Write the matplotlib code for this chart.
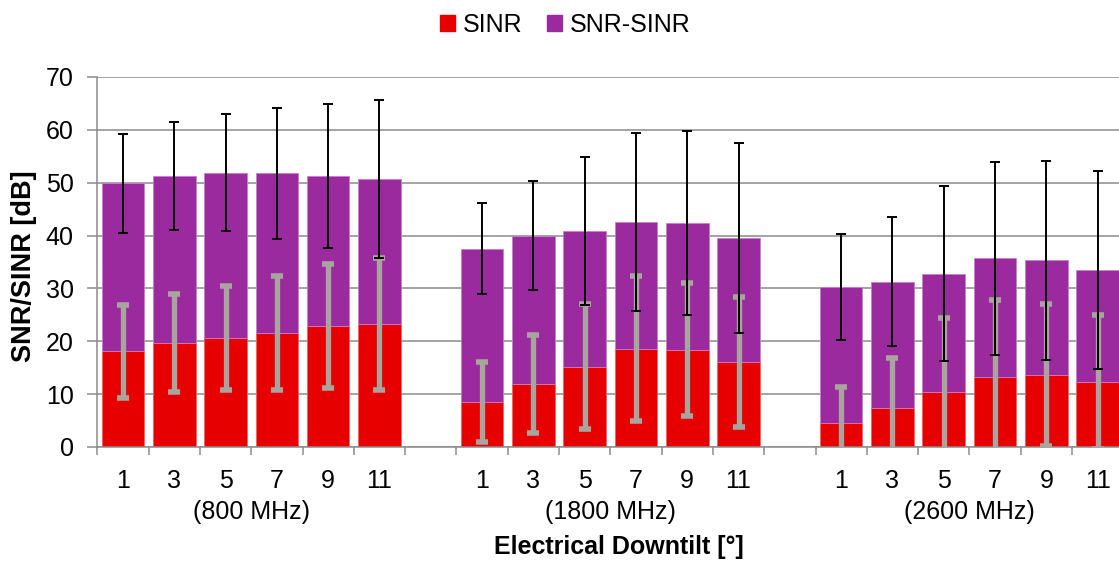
import numpy as np
import matplotlib
matplotlib.use("Agg")
import matplotlib.pyplot as plt
from matplotlib.patches import Patch
from matplotlib.transforms import blended_transform_factory

## Data
tilts = ["1", "3", "5", "7", "9", "11"]
bands = ["(800 MHz)", "(1800 MHz)", "(2600 MHz)"]

# Mean SINR per band and tilt [dB]
sinr_800 = [18.1, 19.7, 20.6, 21.5, 22.9, 23.3]
sinr_1800 = [8.5, 11.9, 15.2, 18.6, 18.4, 16.0]
sinr_2600 = [4.5, 7.4, 10.4, 13.2, 13.6, 12.3]

# Mean SNR (top of the stacked bar) [dB]
snr_800 = [49.9, 51.2, 51.9, 51.8, 51.3, 50.7]
snr_1800 = [37.5, 40.0, 40.8, 42.6, 42.3, 39.5]
snr_2600 = [30.3, 31.3, 32.8, 35.7, 35.3, 33.5]

# Standard deviations (error bars)
sinr_err_800 = [8.8, 9.3, 9.9, 10.8, 11.7, 12.5]
sinr_err_1800 = [7.5, 9.3, 11.8, 13.7, 12.6, 12.3]
sinr_err_2600 = [6.8, 9.4, 14.1, 14.6, 13.4, 12.7]
snr_err_800 = [9.4, 10.2, 11.1, 12.4, 13.6, 15.0]
snr_err_1800 = [8.6, 10.3, 14.0, 16.9, 17.4, 18.0]
snr_err_2600 = [10.0, 12.2, 16.6, 18.2, 18.8, 18.8]

## Styling
RED = "#e60000"
PURPLE = "#9b2a9f"
GRAY_ERR = "#aaa49f"
GRID = "#8c8c8c"

plt.rcParams["font.family"] = ["Liberation Sans", "DejaVu Sans"]

# Concatenate the three bands, one empty slot between groups
sinr = np.concatenate([sinr_800, sinr_1800, sinr_2600])
snr = np.concatenate([snr_800, snr_1800, snr_2600])
sinr_err = np.concatenate([sinr_err_800, sinr_err_1800, sinr_err_2600])
snr_err = np.concatenate([snr_err_800, snr_err_1800, snr_err_2600])
x = np.concatenate([np.arange(6), np.arange(6) + 7, np.arange(6) + 14])

fig = plt.figure(figsize=(11.19, 5.61), dpi=100)
ax = fig.add_axes([97.3 / 1119, 1 - 447 / 561, 1026 / 1119, 370 / 561])

# Stacked bars
ax.bar(x, sinr, width=0.83, color=RED, edgecolor="#f06060", linewidth=0.6, zorder=2)
ax.bar(x, snr - sinr, bottom=sinr, width=0.83, color=PURPLE,
       edgecolor="#c77fc9", linewidth=0.6, zorder=2)

# Error bars: gray for SINR, black for SNR
ax.errorbar(x, sinr, yerr=sinr_err, fmt="none", ecolor=GRAY_ERR, elinewidth=3.8,
            capsize=4.2, capthick=4.0, zorder=3)
ax.errorbar(x, snr, yerr=snr_err, fmt="none", ecolor="black", elinewidth=1.4,
            capsize=3.8, capthick=1.4, zorder=4)

# Axes limits and grid
ax.set_xlim(-0.5, 19.5)
ax.set_ylim(0, 70)
ax.set_yticks(np.arange(0, 71, 10))
ax.yaxis.grid(True, color=GRID, linewidth=1.1, zorder=0)
ax.set_axisbelow(True)

for side in ["top", "right"]:
  ax.spines[side].set_visible(False)
for side in ["left", "bottom"]:
  ax.spines[side].set_color(GRID)
  ax.spines[side].set_linewidth(1.1)

# Category boundaries as tick marks, tilt labels on minor ticks
ax.set_xticks(np.arange(-0.5, 20, 1))
ax.set_xticklabels([])
ax.set_xticks(x, minor=True)
ax.set_xticklabels(tilts * 3, minor=True)
ax.tick_params(axis="x", which="major", length=6, width=1.1, color=GRID)
ax.tick_params(axis="x", which="minor", length=0, pad=16, labelsize=18)
ax.tick_params(axis="y", length=7, width=1.1, color=GRID, labelsize=18, pad=10)

# Band labels under each group
trans = blended_transform_factory(ax.transData, fig.transFigure)
for center, band in zip([2.5, 9.5, 16.5], bands):
  ax.text(center, 1 - 512 / 561, band, transform=trans, ha="center",
          va="center", fontsize=18)

fig.text(619 / 1119, 1 - 547 / 561, "Electrical Downtilt [°]", ha="center",
         va="center", fontsize=18, fontweight="bold")
fig.text(24 / 1119, 1 - 266 / 561, "SNR/SINR [dB]", ha="center", va="center",
         rotation=90, fontsize=19.5, fontweight="bold")

# Legend at the top
handles = [Patch(color=RED, label="SINR"), Patch(color=PURPLE, label="SNR-SINR")]
fig.legend(handles=handles, loc="center", bbox_to_anchor=(0.505, 1 - 25 / 561),
           ncol=2, frameon=False, fontsize=18, handlelength=0.6, handleheight=0.6,
           handletextpad=0.3, columnspacing=1.0)

fig.savefig("out.png", dpi=100)
